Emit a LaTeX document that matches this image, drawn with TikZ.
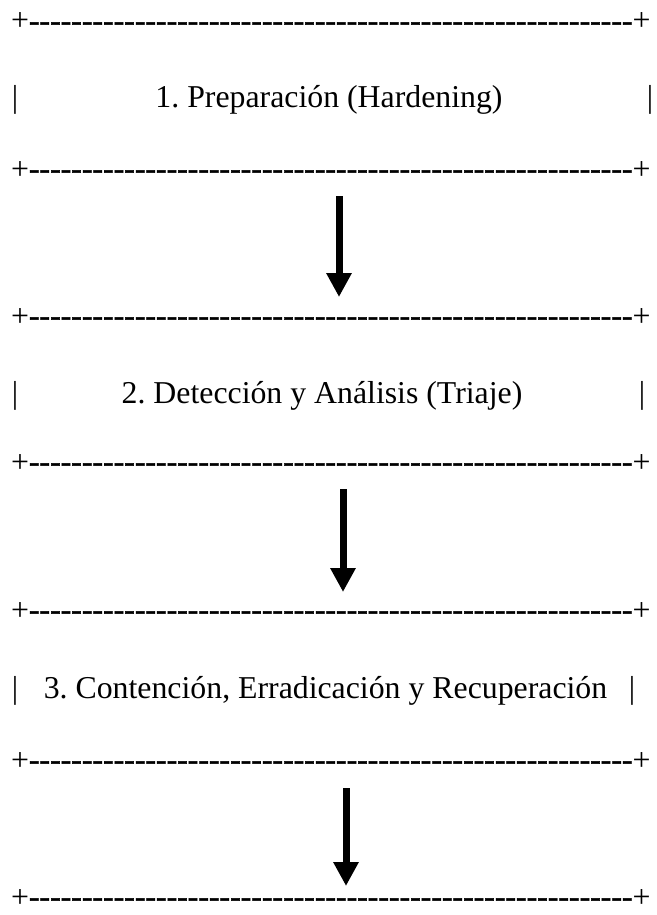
\documentclass[tikz,border=0pt]{standalone}
\usepackage{fontspec}
\newfontfamily\tnr{Liberation Serif}
\newfontfamily\tnrb{Liberation Serif}[FakeBold=1.5]
\usetikzlibrary{arrows.meta}
\frenchspacing
\newcommand{\borderline}{+{\tnrb ---------------------------------------------------------}+}
\tikzset{
  txt/.style={inner sep=0pt, outer sep=0pt, anchor=base, font=\tnr\fontsize{31.8}{38}\selectfont},
  brd/.style={txt, anchor=base west},
  flowarrow/.style={line width=7pt, -{Triangle[width=24pt,length=24pt]}}
}
\begin{document}
\begin{tikzpicture}[x=1pt,y=-1pt]
\useasboundingbox (0,0) rectangle (656,915);
% borders
\node[brd] (b1) at (11,31) {\borderline};
\node[brd] (b2) at (11,179) {\borderline};
\node[brd] (b3) at (11,326) {\borderline};
\node[brd] (b4) at (11,472) {\borderline};
\node[brd] (b5) at (11,620) {\borderline};
\node[brd] (b6) at (11,770) {\borderline};
\node[brd] (b7) at (11,907) {\borderline};
% texts
\node[txt] (l1) at (15,108) {|};
\node[txt] (t1) at (329,108) {1. Preparación (Hardening)};
\node[txt] (r1) at (650,108) {|};
\node[txt] (l2) at (15,403) {|};
\node[txt] (t2) at (322,403) {2. Detección y Análisis (Triaje)};
\node[txt] (r2) at (642,403) {|};
\node[txt] (l3) at (15,698) {|};
\node[txt] (t3) at (325.5,698) {3. Contención, Erradicación y Recuperación};
\node[txt] (r3) at (632,698) {|};
% arrows
\coordinate (a1s) at (339,196);
\coordinate (a1e) at (339,297);
\coordinate (a2s) at (343,489);
\coordinate (a2e) at (343,592);
\coordinate (a3s) at (346,788);
\coordinate (a3e) at (346,886);
\draw[flowarrow] (a1s) -- (a1e);
\draw[flowarrow] (a2s) -- (a2e);
\draw[flowarrow] (a3s) -- (a3e);
\end{tikzpicture}
\end{document}
